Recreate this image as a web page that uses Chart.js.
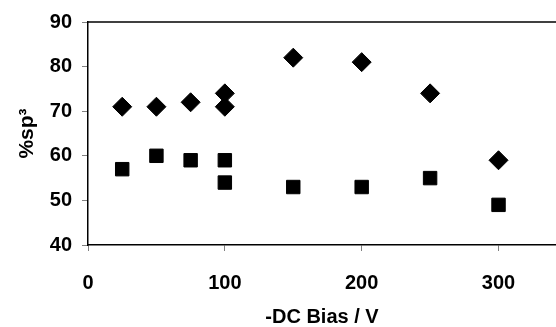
<!DOCTYPE html>
<html>
<head>
<meta charset="utf-8">
<script src="https://cdn.jsdelivr.net/npm/chart.js@4"></script>
<style>
  html, body { margin: 0; padding: 0; background: #fff; overflow: hidden; }
  #wrap { width: 556px; height: 327px; }
</style>
</head>
<body>
<div id="wrap"><canvas id="chart"></canvas></div>
<script>
// values
const biasDiamond = [25, 50, 75, 100, 100, 150, 200, 250, 300];
const sp3Diamond = [71, 71, 72, 74, 71, 82, 81, 74, 59];
const biasSquare = [25, 50, 75, 100, 100, 150, 200, 250, 300];
const sp3Square = [57, 60, 59, 59, 54, 53, 53, 55, 49];
const xTicks = [0, 100, 200, 300];
const yTicks = [40, 50, 60, 70, 80, 90];

const toPoints = (xs, ys) => xs.map((x, i) => ({ x: x, y: ys[i] }));

// top border line of the plot box
const topLine = {
  id: "topLine",
  afterDraw(chart) {
    const { ctx, chartArea } = chart;
    ctx.save();
    ctx.strokeStyle = "#000";
    ctx.lineWidth = 1.5;
    ctx.beginPath();
    ctx.moveTo(chartArea.left, chartArea.top);
    ctx.lineTo(chartArea.right, chartArea.top);
    ctx.stroke();
    ctx.restore();
  },
};

const font = { family: "'Liberation Sans', Arial, sans-serif", weight: "bold", size: 20 };

new Chart(document.getElementById("chart"), {
  type: "scatter",
  data: {
    datasets: [
      {
        data: toPoints(biasDiamond, sp3Diamond),
        pointStyle: "rectRot",
        pointRadius: 9.5,
        backgroundColor: "#000",
        borderColor: "#000",
        borderWidth: 1,
      },
      {
        data: toPoints(biasSquare, sp3Square),
        pointStyle: "rect",
        pointRadius: 9.5,
        backgroundColor: "#000",
        borderColor: "#000",
        borderWidth: 1,
      },
    ],
  },
  options: {
    responsive: true,
    maintainAspectRatio: false,
    animation: false,
    layout: { autoPadding: false, padding: { top: 20, right: 0, left: 0, bottom: 0 } },
    plugins: { legend: { display: false }, tooltip: { enabled: false } },
    scales: {
      x: {
        type: "linear",
        min: 0,
        max: 342,
        afterBuildTicks: (s) => { s.ticks = xTicks.map((v) => ({ value: v })); },
        afterFit: (s) => { s.height = 82; },
        ticks: { color: "#000", font: font, padding: 20 },
        grid: { drawOnChartArea: false, drawTicks: true, tickLength: 6, color: "#808080" },
        border: { color: "#000", width: 1.5 },
        title: {
          display: true,
          text: "-DC Bias / V",
          color: "#000",
          font: { ...font, lineHeight: 1 },
          padding: { top: 0, bottom: 0 },
        },
      },
      y: {
        min: 40,
        max: 90,
        afterBuildTicks: (s) => { s.ticks = yTicks.map((v) => ({ value: v })); },
        afterFit: (s) => { s.width = 88; },
        ticks: { color: "#000", font: font, padding: 10 },
        grid: { drawOnChartArea: false, drawTicks: true, tickLength: 6, color: "#808080" },
        border: { color: "#000", width: 1.5 },
        title: {
          display: true,
          text: "%sp³",
          color: "#000",
          font: { ...font, size: 21, lineHeight: 1 },
          padding: { top: 17, bottom: 0 },
        },
      },
    },
  },
  plugins: [topLine],
});
</script>
</body>
</html>
